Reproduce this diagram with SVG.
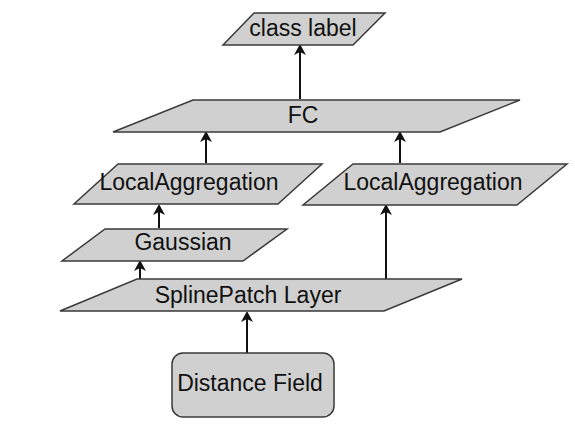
<svg xmlns="http://www.w3.org/2000/svg" width="575" height="435" viewBox="0 0 575 435">
<defs>
<marker id="ah" markerWidth="10" markerHeight="12" refX="9" refY="6" orient="auto" markerUnits="userSpaceOnUse">
<path d="M0,0 L11,6 L0,12 L3,6 Z" fill="#111"/>
</marker>
<style>
.n{fill:#d0d0d0;stroke:#3a3a3a;stroke-width:1.5}
.t{font-family:"Liberation Sans",Arial,sans-serif;font-size:23px;fill:#111;text-anchor:middle}
.c{stroke:#111;stroke-width:2;fill:none;marker-end:url(#ah)}
</style>
</defs>
<rect width="575" height="435" fill="#fff"/>
<g id="connectors">
<line class="c" x1="300" y1="99" x2="300" y2="46"/>
<line class="c" x1="206" y1="163" x2="206" y2="133"/>
<line class="c" x1="400" y1="163" x2="400" y2="133"/>
<line class="c" x1="159" y1="228" x2="159" y2="206"/>
<line class="c" x1="140" y1="291" x2="140" y2="262"/>
<line class="c" x1="386" y1="279" x2="386" y2="206"/>
<line class="c" x1="247" y1="353" x2="247" y2="313"/>
</g>
<g id="class-label">
<polygon class="n" points="254,13 385,13 353,45 223,45"/>
<text class="t" x="303" y="36">class label</text>
</g>
<g id="fc">
<polygon class="n" points="193,100 520,100 440,132 113,132"/>
<text class="t" x="303" y="123">FC</text>
</g>
<g id="localagg-left">
<polygon class="n" points="118,164 322,164 278,204 74,204"/>
<text class="t" x="189" y="190">LocalAggregation</text>
</g>
<g id="localagg-right">
<polygon class="n" points="353,164 567,164 517,205 303,205"/>
<text class="t" x="433" y="190">LocalAggregation</text>
</g>
<g id="gaussian">
<polygon class="n" points="105,229 287,229 243,261 62,261"/>
<text class="t" x="183" y="250">Gaussian</text>
</g>
<g id="splinepatch">
<polygon class="n" points="137,279 462,279 384,311 60,311"/>
<text class="t" x="248" y="303">SplinePatch Layer</text>
</g>
<g id="distance-field">
<rect class="n" x="172" y="353" width="162" height="64" rx="11" ry="11"/>
<text class="t" x="250" y="391">Distance Field</text>
</g>
</svg>
